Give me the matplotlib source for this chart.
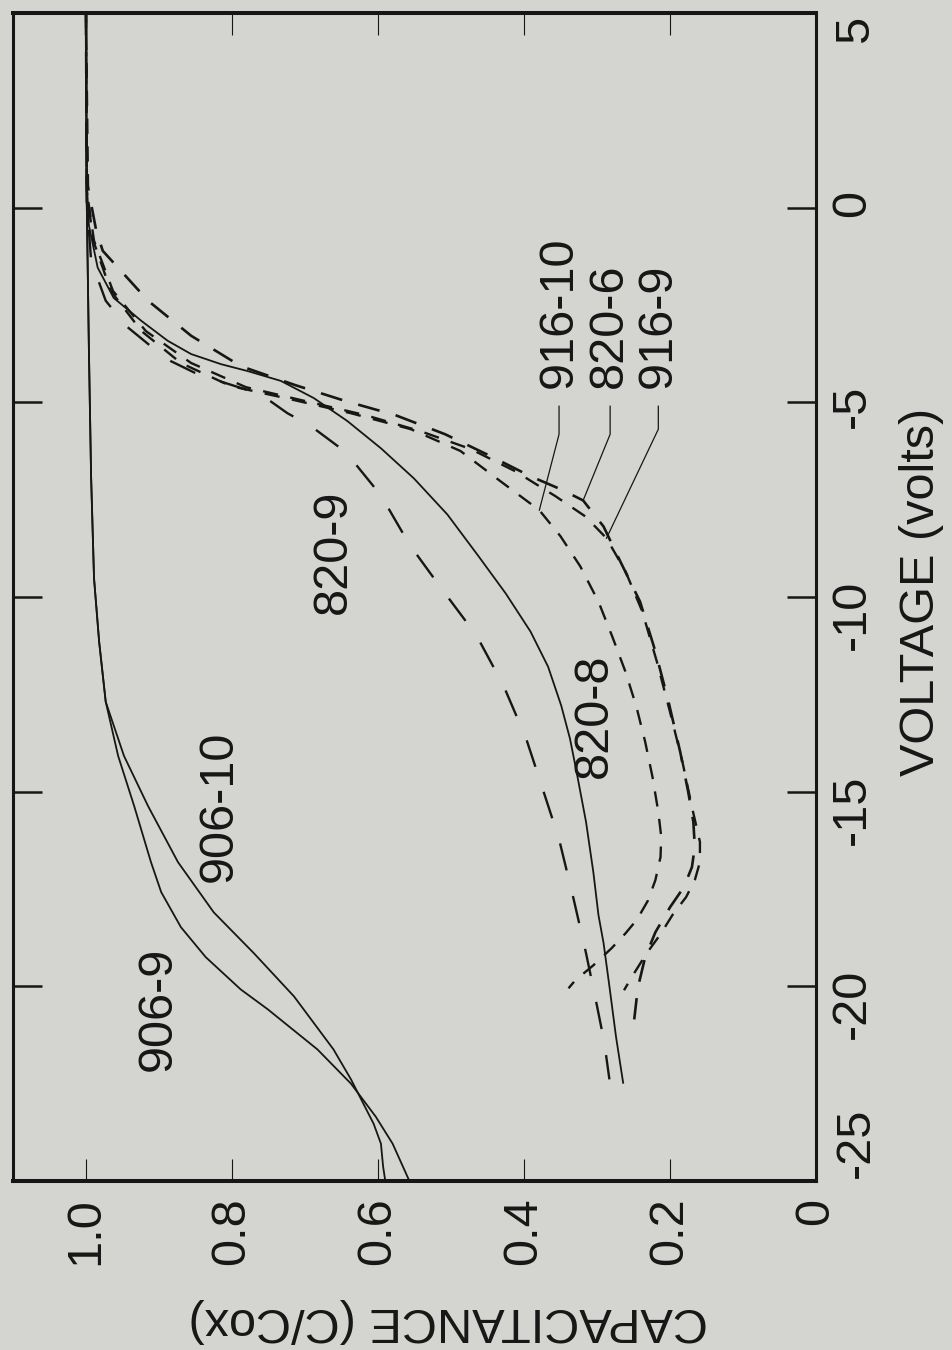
import matplotlib
matplotlib.use("Agg")
import matplotlib.pyplot as plt
import matplotlib.transforms as mtransforms

v_906_9 = [5.0, 0.18, -3.68, -6.92, -9.52, -11.15, -12.69, -14.08, -15.37, -16.81, -17.58,
           -18.48, -19.25, -20.08, -20.59, -21.62, -22.50, -23.35, -24.04, -25.0]
c_906_9 = [1.000, 0.999, 0.996, 0.993, 0.989, 0.982, 0.973, 0.956, 0.934, 0.911, 0.897,
           0.870, 0.836, 0.788, 0.751, 0.683, 0.637, 0.603, 0.580, 0.557]

v_906_10 = [5.0, 0.18, -3.68, -6.92, -9.52, -11.15, -12.69, -14.08, -15.37, -16.81, -18.10,
            -19.15, -20.26, -21.62, -22.39, -23.53, -24.04, -24.63, -25.0]
c_906_10 = [1.000, 0.999, 0.996, 0.993, 0.989, 0.982, 0.973, 0.948, 0.915, 0.874, 0.825,
            0.770, 0.715, 0.661, 0.637, 0.606, 0.596, 0.593, 0.590]

v_820_8 = [5.0, 0.69, -0.46, -1.54, -2.32, -2.91, -3.42, -3.76, -4.02, -4.20, -4.45, -4.89,
           -5.48, -6.18, -6.95, -7.88, -8.96, -9.91, -10.89, -11.79, -12.79, -13.64, -14.49,
           -15.78, -17.07, -18.17, -18.89, -20.00, -21.29, -22.50]
c_820_8 = [1.000, 0.999, 0.996, 0.984, 0.962, 0.924, 0.888, 0.856, 0.815, 0.778, 0.733, 0.688,
           0.642, 0.596, 0.551, 0.505, 0.462, 0.425, 0.391, 0.367, 0.349, 0.337, 0.328,
           0.315, 0.305, 0.298, 0.291, 0.283, 0.274, 0.264]

v_820_9 = [5.0, 0.18, -1.36, -2.39, -3.04, -3.50, -3.94, -4.25, -4.48, -4.79, -5.28, -5.61,
           -6.28, -7.39, -8.65, -9.76, -10.99, -12.28, -13.64, -15.01, -16.22, -17.76, -19.15,
           -20.41, -21.44, -22.39]
c_820_9 = [1.000, 0.999, 0.993, 0.973, 0.945, 0.915, 0.884, 0.850, 0.813, 0.761, 0.724, 0.692,
           0.644, 0.596, 0.557, 0.514, 0.465, 0.428, 0.397, 0.373, 0.352, 0.332, 0.315,
           0.301, 0.290, 0.283]

v_916_10 = [5.0, 0.44, -0.85, -2.14, -3.17, -3.99, -4.58, -4.92, -5.28, -5.69, -6.25, -7.03,
            -7.77, -8.44, -9.21, -10.12, -11.02, -11.92, -12.82, -13.72, -14.62, -15.52, -16.16,
            -16.68, -17.27, -17.79, -18.28, -18.64, -19.02, -19.46, -19.85, -20.05]
c_916_10 = [1.000, 0.999, 0.990, 0.966, 0.924, 0.870, 0.802, 0.720, 0.637, 0.555, 0.487, 0.432,
            0.379, 0.350, 0.323, 0.298, 0.279, 0.261, 0.246, 0.234, 0.224, 0.216, 0.212,
            0.213, 0.220, 0.230, 0.245, 0.261, 0.280, 0.305, 0.330, 0.339]

v_820_6 = [5.0, 0.69, -0.59, -1.11, -2.39, -3.29, -4.07, -4.56, -4.97, -5.33, -5.82, -6.38,
           -6.90, -7.23, -7.52, -8.19, -9.09, -10.12, -11.40, -12.69, -13.98, -15.01, -15.78,
           -16.42, -16.94, -17.45, -17.97, -18.61, -19.25, -20.03, -20.85]
c_820_6 = [1.000, 0.999, 0.986, 0.977, 0.915, 0.856, 0.788, 0.713, 0.644, 0.576, 0.508, 0.446,
           0.391, 0.350, 0.319, 0.291, 0.268, 0.241, 0.220, 0.202, 0.186, 0.175, 0.168,
           0.166, 0.170, 0.181, 0.200, 0.220, 0.234, 0.244, 0.249]

v_916_9 = [5.0, 0.18, -0.85, -2.14, -3.17, -3.99, -4.61, -4.97, -5.33, -5.74, -6.20, -6.77,
           -7.41, -7.93, -8.49, -9.34, -10.37, -11.66, -12.95, -14.23, -15.39, -16.29, -16.81,
           -17.27, -17.71, -18.15, -18.66, -19.18, -19.69, -20.10]
c_916_9 = [1.000, 0.997, 0.989, 0.963, 0.918, 0.856, 0.781, 0.699, 0.617, 0.542, 0.473, 0.412,
           0.357, 0.316, 0.287, 0.261, 0.238, 0.218, 0.200, 0.183, 0.170, 0.159, 0.159,
           0.166, 0.178, 0.196, 0.213, 0.233, 0.250, 0.263]

cap_ticks = [1.0, 0.8, 0.6, 0.4, 0.2, 0.0]
cap_labels = ["1.0", "0.8", "0.6", "0.4", "0.2", "0"]
volt_ticks = [-25, -20, -15, -10, -5, 0, 5]
volt_labels = ["", "-20", "-15", "-10", "-5", "0", ""]
# the two end labels of the voltage axis sit a little inside the frame
volt_end_labels = [("5", 4.58), ("-25", -24.02)]

# curve labels (text, C, V) and leader lines for the three stacked labels
curve_labels = [("906-9", 0.901, -20.57), ("906-10", 0.817, -15.38),
                ("820-9", 0.661, -8.85), ("820-8", 0.303, -13.05)]
stacked_labels = [("916-10", 0.352), ("820-6", 0.283), ("916-9", 0.216)]
leaders = [([0.352, 0.352, 0.379], [-5.10, -5.82, -7.77]),
           ([0.282, 0.282, 0.319], [-5.10, -5.82, -7.52]),
           ([0.216, 0.216, 0.287], [-5.10, -5.69, -8.49])]

bg = "#d4d4d0"
ink = "#161616"
plt.rcParams["font.family"] = ["Liberation Sans", "DejaVu Sans"]
plt.rcParams["lines.scale_dashes"] = False
fs = 35

fig = plt.figure(figsize=(9.52, 13.5), dpi=100, facecolor=bg)
ax = fig.add_axes([13 / 952, 169 / 1350, 803 / 952, 1168 / 1350])
ax.set_facecolor(bg)

# chart is drawn turned a quarter turn: capacitance runs across, voltage runs up
solid = dict(color=ink, lw=1.3, solid_capstyle="butt")
ax.plot(c_906_9, v_906_9, **solid)
ax.plot(c_906_10, v_906_10, **solid)
ax.plot(c_820_8, v_820_8, **solid)
ax.plot(c_820_9, v_820_9, color=ink, lw=1.7, linestyle=(0, (20, 19)))
ax.plot(c_820_6, v_820_6, color=ink, lw=1.9, linestyle=(0, (16, 12)))
ax.plot(c_916_10, v_916_10, color=ink, lw=1.7, linestyle=(0, (11, 9)))
ax.plot(c_916_9, v_916_9, color=ink, lw=1.7, linestyle=(4, (11, 9)))

for xs, ys in leaders:
    ax.plot(xs, ys, color=ink, lw=0.9)

for txt, c, v in curve_labels:
    ax.text(c, v, txt, rotation=90, ha="center", va="center", fontsize=fs, color=ink)
for txt, c in stacked_labels:
    ax.text(c, -4.63, txt, rotation=90, ha="center", va="bottom", fontsize=fs, color=ink)

ax.set_xlim(1.1, 0)
ax.set_ylim(-25, 5)

ax.set_xticks(cap_ticks)
ax.set_xticklabels(cap_labels, rotation=90)
ax.set_yticks(volt_ticks)
ax.set_yticklabels(volt_labels, rotation=90)

ax.tick_params(axis="x", direction="in", length=16, width=0.8, top=True, bottom=True,
               labelsize=fs, labelcolor=ink, color=ink, pad=12)
ax.tick_params(axis="y", direction="in", length=21, width=1.8, left=True, right=True,
               labelleft=False, labelright=True, labelsize=fs, labelcolor=ink, color=ink, pad=10)

end_tr = mtransforms.blended_transform_factory(ax.transAxes, ax.transData)
for txt, v in volt_end_labels:
    ax.text(1.0498, v, txt, transform=end_tr, rotation=90, ha="center", va="center",
            fontsize=fs, color=ink, clip_on=False)

for side in ["top", "bottom"]:
    ax.spines[side].set_linewidth(2.9)
for side in ["left", "right"]:
    ax.spines[side].set_linewidth(2.2)
for sp in ax.spines.values():
    sp.set_color(ink)

fig.text(922 / 952, 1 - 592 / 1350, "VOLTAGE (volts)", rotation=90, ha="center",
         va="center", fontsize=fs, color=ink)
fig.text(448 / 952, 1 - 1320 / 1350, "CAPACITANCE (C/Cox)", rotation=180, ha="center",
         va="center", fontsize=fs, color=ink)

fig.savefig("out.png", dpi=100, facecolor=bg)
